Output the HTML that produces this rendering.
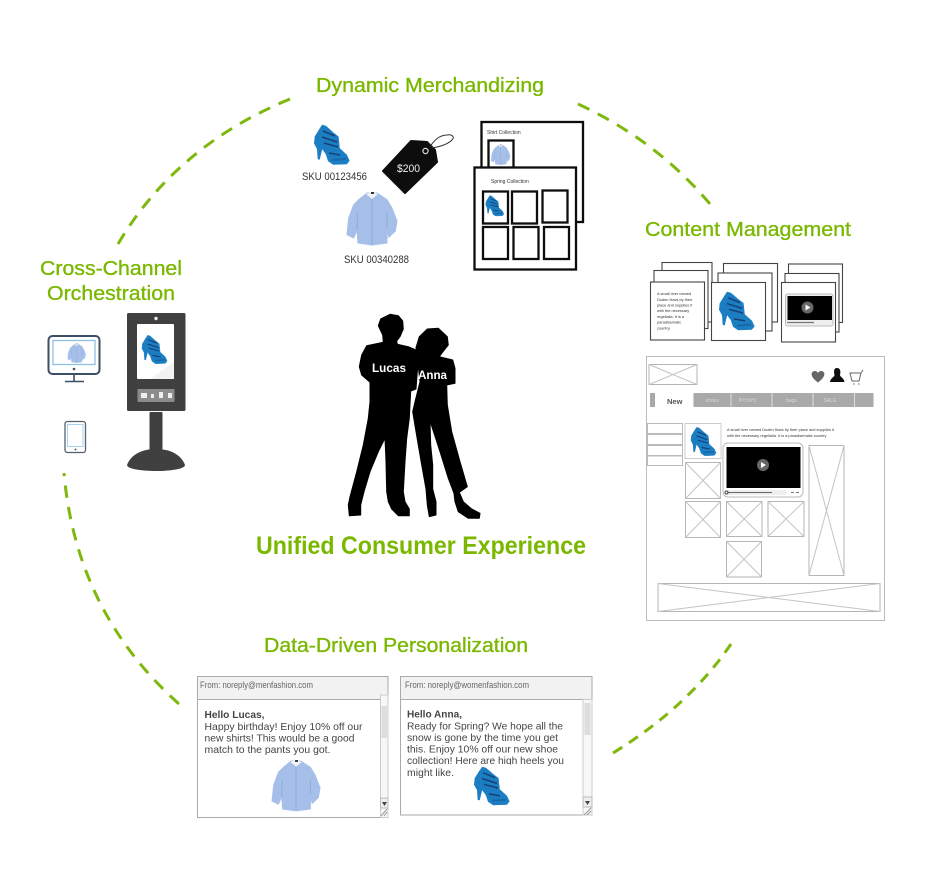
<!DOCTYPE html>
<html><head><meta charset="utf-8">
<style>html,body{margin:0;padding:0;background:#fff}svg{display:block}text{font-family:"Liberation Sans",sans-serif}</style>
</head><body>
<svg width="944" height="877" viewBox="0 0 944 877" xmlns="http://www.w3.org/2000/svg">
<defs>
<filter id="soft" x="-5%" y="-5%" width="110%" height="110%"><feGaussianBlur stdDeviation="0.35"/></filter>
<g id="shoe">
<path d="M9.300 -1 L12.700 0 L20.300 6.700 L25.300 10.700 L26.500 22.300 L33.700 29 L36.300 34.700 L33.700 38 L20.300 38.500 L15.300 35 L13 28 L9 22.500 L6.500 33.300 L5 33 L4.300 23 L1.300 17.300 L2 10.700 L6 4Z" fill="#1d7ec2" stroke="#1d7ec2" stroke-width=".6" stroke-linejoin="round"/>
<path d="M10 5 L22 10 M9 11 L24 16 M11 17 L25 21 M16 27 L27 29" stroke="#123f74" stroke-width="1.600" fill="none"/>
<path d="M19 34 L33 33" stroke="#1468a8" stroke-width="2" fill="none"/>
</g>
<g id="shirt">
<path d="M19 0 L29 0 L39 6.700 L44 15 L49 28 L47.300 38 L40.700 44.300 L39 35 L39 50 L24 52 L10 50 L9 37 L5.700 45 L-1 41.700 L.7 25 L5.700 11.700 L10.700 6.700Z" fill="#a6bfe9" stroke="#a6bfe9" stroke-linejoin="round"/>
<path d="M24 5 V51 M9.500 20 L9 37 M39 20 L39 35" stroke="#8fa9d8" stroke-width="1" fill="none"/>
<path d="M18 1 L24 6 L30 1 L24 -1Z" fill="#f3f4f8"/>
<path d="M23 -1 h3 v2 h-3z" fill="#333"/>
</g>
<g id="xb"><rect width="1" height="1" fill="#fff" stroke="#b5b5b5" vector-effect="non-scaling-stroke"/><path d="M0 0L1 1M1 0L0 1" stroke="#c4c4c4" vector-effect="non-scaling-stroke"/></g>
</defs>
<g filter="url(#soft)">

<!-- Arcs -->
<g fill="none" stroke="#7fb80e" stroke-width="3" stroke-linecap="butt" stroke-dasharray="12 9">
<path pathLength="222" d="M118 244 Q176 146 290 99"/>
<path pathLength="159" d="M578 104 Q656 140 710 204"/>
<path pathLength="180" d="M731 644 Q688 707 613 753"/>
<path pathLength="255" d="M64 473 Q76 612 179 704" stroke-dashoffset="9"/>
</g>

<!-- Titles -->
<g fill="#7ab800" stroke="#7ab800" stroke-width=".35" font-size="20.500">
<text x="316" y="92" textLength="228" lengthAdjust="spacingAndGlyphs">Dynamic Merchandizing</text>
<text x="645" y="236" textLength="206" lengthAdjust="spacingAndGlyphs">Content Management</text>
<text x="40" y="275" textLength="142" lengthAdjust="spacingAndGlyphs">Cross-Channel</text>
<text x="47" y="300" textLength="128" lengthAdjust="spacingAndGlyphs">Orchestration</text>
<text x="264" y="652" textLength="264" lengthAdjust="spacingAndGlyphs">Data-Driven Personalization</text>
</g>
<text x="256" y="554" font-size="25" font-weight="700" fill="#7ab800" textLength="330" lengthAdjust="spacingAndGlyphs">Unified Consumer Experience</text>

<!-- Merchandizing -->
<use href="#shoe" x="313" y="126"/>
<text x="302" y="180" font-size="11" fill="#333" textLength="65" lengthAdjust="spacingAndGlyphs">SKU 00123456</text>
<use href="#shirt" x="348" y="193"/>
<text x="344" y="263" font-size="11" fill="#333" textLength="65" lengthAdjust="spacingAndGlyphs">SKU 00340288</text>
<path d="M411 141 L427 142 L435 150 L437 162 L405 193 L383 171Z" fill="#111" stroke="#111" stroke-width="2" stroke-linejoin="round"/>
<circle cx="425.500" cy="151" r="2.600" fill="none" stroke="#ddd" stroke-width="1.200"/>
<path d="M430 147 C434 140 440 135 447 135 C452 134 455 137 452 140 C447 145 438 147 432 148" fill="none" stroke="#333" stroke-width="1"/>
<text x="397" y="172" font-size="11" fill="#eee" textLength="23" lengthAdjust="spacingAndGlyphs">$200</text>

<g fill="#fff" stroke="#111" stroke-width="2.300">
<rect x="481.500" y="122" width="101.500" height="100"/>
<text x="487" y="134" font-size="5" fill="#333" stroke="none">Shirt Collection</text>
<rect x="488.500" y="140.500" width="25" height="29"/>
<rect x="474.500" y="167.500" width="101.500" height="102"/>
<text x="491" y="183" font-size="5" fill="#333" stroke="none">Spring Collection</text>
<rect x="483" y="191.500" width="25" height="32"/>
<rect x="512" y="191.500" width="25" height="32"/>
<rect x="542.500" y="190.500" width="25" height="32"/>
<rect x="483" y="227" width="25" height="32"/>
<rect x="513.500" y="227" width="25" height="32"/>
<rect x="544" y="227" width="25" height="32"/>
</g>
<use href="#shirt" transform="translate(491.500,145) scale(.38)"/>
<use href="#shoe" transform="translate(485,196) scale(.52)"/>

<!-- Cross channel -->
<rect x="48.500" y="336" width="51" height="38" rx="4" fill="#fff" stroke="#3d5066" stroke-width="2"/>
<rect x="53" y="340.500" width="42" height="24" fill="#fff" stroke="#8fc0e4" stroke-width="1.300"/>
<use href="#shirt" transform="translate(68,344) scale(.36)"/>
<circle cx="74" cy="369" r="1.300" fill="#3d5066"/>
<path d="M74 375 V381 M65 381.500 H84" stroke="#3d5066" stroke-width="1.600" fill="none"/>
<rect x="65" y="421.500" width="20.500" height="31" rx="2.500" fill="#fff" stroke="#55606e" stroke-width="1.300"/>
<rect x="67.500" y="424.500" width="15.500" height="22" fill="#fff" stroke="#a9d2ee"/>
<circle cx="75.500" cy="449.500" r="1" fill="#555"/>
<rect x="127" y="313" width="58.500" height="98" rx="1.500" fill="#414141"/>
<circle cx="156" cy="318.500" r="1.700" fill="#eee"/>
<rect x="137" y="324" width="37" height="55" rx="1" fill="#fff"/>
<path d="M150 379 L174 362 V379Z" fill="#f2f2f2"/>
<use href="#shoe" transform="translate(141,336) scale(.72)"/>
<rect x="137.500" y="389" width="37" height="13" rx="1" fill="#8c8c8c"/>
<g fill="#eee"><rect x="141" y="393" width="6" height="5"/><rect x="151" y="394" width="3" height="4"/><rect x="159" y="392" width="4" height="6"/><rect x="168" y="393" width="4" height="5"/></g>
<rect x="149.500" y="412" width="13" height="42" rx="1" fill="#414141"/>
<path d="M127 465 C132 452 146 449 156 449 C166 449 180 452 185 465 C185 469 170 471 156 471 C142 471 127 469 127 465Z" fill="#414141"/>

<!-- Silhouette -->
<g fill="#000" stroke="#000" stroke-width="1" stroke-linejoin="round">
<path d="M390 314.300 L398.300 315.700 L402.700 321 L403.300 329 L400 336.700 L396.700 341 L397.300 344.300 L408.300 346.700 L416 350 L419.300 358.300 L417.300 371.700 L416 389 L410.700 391 L409.300 418.300 L406.700 438.300 L405 461.700 L403.300 491.700 L405 501.700 L409.300 509 L409.300 515.700 L398.300 515.700 L391.700 509 L388.300 501.700 L386.700 491.700 L386 461.700 L385 438.300 L378.300 451.700 L370 471.700 L364 491.700 L360.700 505 L360.700 515 L349.300 515.700 L348.300 505 L350 496.700 L356.700 471.700 L363.300 445 L368.300 418.300 L370 401.700 L370 382.300 L361.700 375 L359.300 366.700 L361.700 355 L366.700 345.700 L383.300 342.300 L382.700 335 L378.300 325.700 L380.700 319Z"/>
<path d="M416 347.700 L419.300 336.700 L427.300 329 L438.300 328.300 L447.300 336.700 L448.300 345 L441.700 353.300 L439.300 356.700 L452.700 360 L455 368.300 L455 383.300 L446.700 385 L447.300 405 L451.700 431.700 L460 461.700 L467.300 486.700 L459.300 492.300 L463.300 501.700 L471.700 509 L480 513.300 L479.300 518.300 L468.300 518.300 L458.300 511.700 L455 501.700 L454 493.300 L448.300 478.300 L440 451.700 L430 421 L430.700 445 L432.700 465 L432.700 489 L436 501.700 L436 515 L429.300 516.700 L427.300 505 L426 489 L421.700 465 L416 431.700 L412.700 411.700 L415 401.700 L420 381.700 L417.300 358.300Z"/>
</g>
<text x="372" y="372" font-size="12" font-weight="700" fill="#fff" textLength="34" lengthAdjust="spacingAndGlyphs">Lucas</text>
<text x="418" y="379" font-size="12" font-weight="700" fill="#fff" textLength="29" lengthAdjust="spacingAndGlyphs">Anna</text>

<!-- Content cards -->
<g fill="#fff" stroke="#444" stroke-width="1.100">
<rect x="662" y="262.500" width="50" height="59.500"/><rect x="654" y="270.500" width="54" height="58"/><rect x="650.500" y="282" width="54" height="58"/>
<rect x="723.500" y="263.500" width="54" height="58.500"/><rect x="718" y="273" width="54" height="58"/><rect x="711.500" y="282.500" width="54" height="58"/>
<rect x="788.500" y="264" width="54" height="58.500"/><rect x="785" y="273.500" width="54" height="58.500"/><rect x="781.500" y="282.500" width="54" height="59.500"/>
</g>
<g font-size="3.900" fill="#333">
<text x="657" y="295">A small river named</text><text x="657" y="301">Duden flows by their</text><text x="657" y="306.500">place and supplies it</text><text x="657" y="312">with the necessary</text><text x="657" y="318">regelialia. It is a</text><text x="657" y="323.500">paradisematic</text><text x="657" y="329.500">country.</text>
</g>
<use href="#shoe" transform="translate(718,293) scale(1,.96)"/>
<rect x="785.500" y="294" width="47.500" height="32" rx="2" fill="#eee" stroke="#bbb"/>
<rect x="787.500" y="296" width="44.500" height="24" fill="#000"/>
<circle cx="807.500" cy="307.500" r="6" fill="#666"/><path d="M805.500 304.500 V310.500 L810.500 307.500Z" fill="#fff"/>
<path d="M787 322.500 H814" stroke="#777" stroke-width="1.300"/>

<!-- Wireframe -->
<rect x="646.500" y="356.500" width="238" height="264" fill="#fff" stroke="#bbb"/>
<use href="#xb" transform="translate(649,364.500) scale(48,20)"/>
<path d="M818 382.500 C809 376 811 371 815 371 C816.500 371 817.500 372 818 373 C818.500 372 819.500 371 821 371 C825 371 827 376 818 382.500Z" fill="#666"/>
<path d="M837 368 C840 368 841 371 840 375 C840 377 844 378 844.500 382 H830 C830.500 378 834.500 377 834.500 375 C833.500 371 834 368 837 368Z" fill="#111"/>
<path d="M850 373 H861 L859 381 H852Z M863 370 L861 373 M853 384 h1.500 M858 384 h1.500" fill="none" stroke="#666"/>
<rect x="650" y="393" width="223.500" height="14" fill="#a9a9a9"/>
<path d="M731 393V407M772 393V407M813 393V407M854.500 393V407" stroke="#ddd"/>
<path d="M655 407 V393 Q655 391 657 391 H692 Q693.500 391 693.500 393 V407Z" fill="#fff"/>
<text x="667" y="404" font-size="7.500" font-weight="700" fill="#555">New</text>
<g font-size="5" fill="#d8d8d8"><text x="705.500" y="402">shoes</text><text x="738.500" y="401.500">dresses</text><text x="786" y="402">bags</text><text x="823.500" y="402">SALE</text></g>
<g fill="#fff" stroke="#bbb"><rect x="647.500" y="423.500" width="35" height="10"/><rect x="647.500" y="434.500" width="35" height="10"/><rect x="647.500" y="445.500" width="35" height="10"/><rect x="647.500" y="456" width="35" height="9.500"/></g>
<rect x="685" y="423.500" width="36" height="35" fill="#fff" stroke="#ccc"/>
<use href="#shoe" transform="translate(690,428) scale(.72)"/>
<g font-size="3.900" fill="#333"><text x="727" y="431">A small river named Duden flows by their place and supplies it</text><text x="727" y="437">with the necessary regelialia. It is a paradisematic country</text></g>
<rect x="723" y="443" width="80" height="54" rx="5" fill="#fff" stroke="#bbb"/>
<rect x="726.500" y="447" width="74" height="41" fill="#000"/>
<circle cx="763" cy="465" r="6" fill="#666"/><path d="M761 462 V468 L766 465Z" fill="#fff"/>
<rect x="725" y="490" width="62" height="5" rx="2.500" fill="#eee"/>
<path d="M727 492.500 H772" stroke="#666"/><circle cx="726.500" cy="492.500" r="1.500" fill="#fff" stroke="#444"/>
<path d="M791 492.500h3M796 492.500h3" stroke="#777"/>
<use href="#xb" transform="translate(685.500,462.500) scale(35,36)"/>
<use href="#xb" transform="translate(685.500,501.500) scale(35,36)"/>
<use href="#xb" transform="translate(726.500,501.500) scale(35.500,35)"/>
<use href="#xb" transform="translate(768,501.500) scale(36,35)"/>
<use href="#xb" transform="translate(726.500,541.500) scale(35,35.500)"/>
<use href="#xb" transform="translate(809,445.500) scale(35,130)"/>
<use href="#xb" transform="translate(658,583.500) scale(222,28)"/>

<!-- Emails -->
<g>
<rect x="197.500" y="676.500" width="190.500" height="23" fill="#f2f2f2" stroke="#aaa"/>
<rect x="197.500" y="699.500" width="183" height="118" fill="#fff" stroke="#aaa"/>
<rect x="380.500" y="695" width="7.500" height="122.500" fill="#f7f7f7" stroke="#ccc"/>
<rect x="381.500" y="706" width="5.500" height="32" fill="#ddd"/>
<rect x="380.500" y="798" width="7.500" height="10" fill="#eee" stroke="#bbb"/><path d="M382 802h5l-2.500 4z" fill="#444"/>
<path d="M381 816l6-7M384 816l3-4" stroke="#999"/>
<rect x="400.500" y="676.500" width="191.500" height="23" fill="#f2f2f2" stroke="#aaa"/>
<rect x="400.500" y="699.500" width="182.500" height="115.500" fill="#fff" stroke="#aaa"/>
<rect x="583" y="699.500" width="9" height="115.500" fill="#f7f7f7" stroke="#ccc"/>
<rect x="584.500" y="703" width="6" height="32" fill="#ddd"/>
<rect x="583" y="797" width="9" height="10" fill="#eee" stroke="#bbb"/><path d="M585 801h5l-2.500 4z" fill="#444"/>
<path d="M584 815l7-7M587 815l4-4" stroke="#999"/>
</g>
<text x="200" y="688" font-size="9" fill="#666" textLength="113" lengthAdjust="spacingAndGlyphs">From: noreply@menfashion.com</text>
<text x="405" y="688" font-size="9" fill="#666" textLength="124" lengthAdjust="spacingAndGlyphs">From: noreply@womenfashion.com</text>
<g font-size="10.500" fill="#444">
<text x="204.500" y="718" font-weight="700" textLength="60" lengthAdjust="spacingAndGlyphs">Hello Lucas,</text>
<text x="204.500" y="730" textLength="158" lengthAdjust="spacingAndGlyphs">Happy birthday! Enjoy 10% off our</text>
<text x="204.500" y="741.500" textLength="150" lengthAdjust="spacingAndGlyphs">new shirts! This would be a good</text>
<text x="204.500" y="753" textLength="126" lengthAdjust="spacingAndGlyphs">match to the pants you got.</text>
<text x="407" y="717.500" font-weight="700" textLength="55" lengthAdjust="spacingAndGlyphs">Hello Anna,</text>
<text x="407" y="729.500" textLength="156" lengthAdjust="spacingAndGlyphs">Ready for Spring? We hope all the</text>
<text x="407" y="741" textLength="151" lengthAdjust="spacingAndGlyphs">snow is gone by the time you get</text>
<text x="407" y="752.500" textLength="151" lengthAdjust="spacingAndGlyphs">this. Enjoy 10% off our new shoe</text>
<text x="407" y="764" textLength="157" lengthAdjust="spacingAndGlyphs">collection! Here are high heels you</text>
<text x="407" y="776" textLength="47" lengthAdjust="spacingAndGlyphs">might like.</text>
</g>
<rect x="470" y="764.500" width="70" height="3" fill="#fff"/>
<use href="#shirt" transform="translate(273,761) scale(.96)"/>
<use href="#shoe" transform="translate(473,768) scale(1,.96)"/>
</g>
</svg>
</body></html>
